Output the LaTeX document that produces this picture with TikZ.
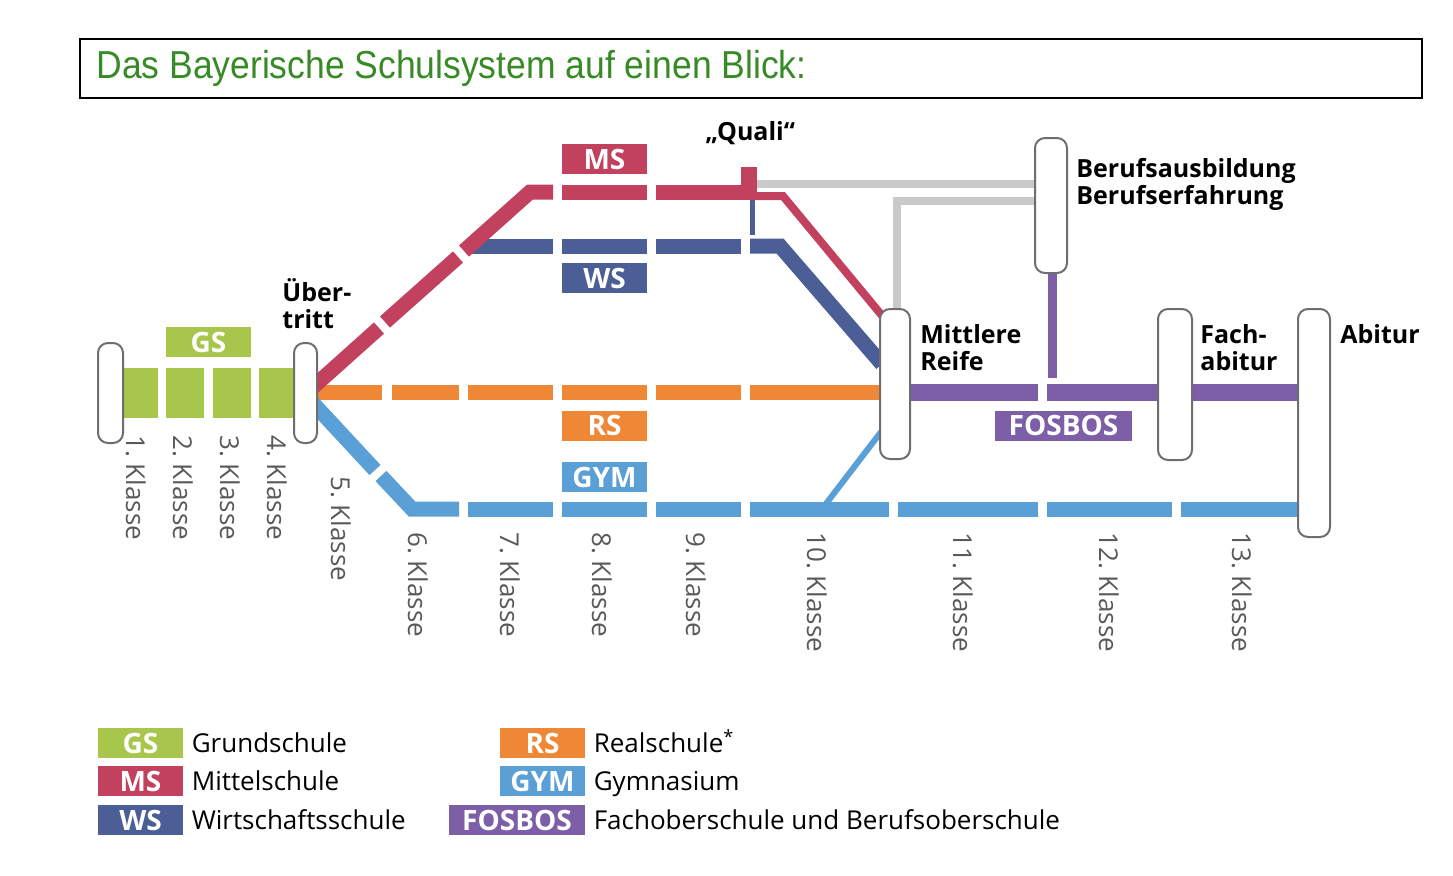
\documentclass[tikz,border=0pt]{standalone}
\usepackage{graphicx}
\usepackage{fontspec}
\setmainfont{Open Sans}
\newfontfamily\titlefont{Liberation Sans}
\usetikzlibrary{positioning}
\definecolor{gsgreen}{HTML}{A8C64B}
\definecolor{msred}{HTML}{C1415F}
\definecolor{wsblue}{HTML}{4B5E95}
\definecolor{rsorange}{HTML}{EF8836}
\definecolor{gymblue}{HTML}{5A9FD5}
\definecolor{fospurple}{HTML}{7C5FA7}
\definecolor{pathgray}{HTML}{C9C9C9}
\definecolor{pillgray}{HTML}{6E6E6E}
\definecolor{titlegreen}{HTML}{378A26}
\definecolor{classgray}{HTML}{595959}

\begin{document}
\begin{tikzpicture}[x=0.5pt, y=-0.5pt,
    track/.style={line width=7.5pt},
    pill/.style={draw=pillgray, fill=white, line width=1pt, rounded corners=5pt, inner sep=0pt},
    tag/.style={fill=#1, text=white, font=\fontsize{14}{14}\selectfont\bfseries, minimum width=42.5pt, minimum height=15pt, inner sep=0pt},
    stage/.style={anchor=base west, align=left, inner sep=0pt, font=\fontsize{12.5}{13.5}\selectfont\bfseries},
    klasse/.style={rotate=-90, anchor=base west, inner sep=0pt, text=classgray, font=\fontsize{13}{13}\selectfont},
    legend/.style={inner sep=0pt, text height=9.3pt, text depth=0pt, font=\fontsize{13}{13}\selectfont}]
\useasboundingbox (0,0) rectangle (1453,875);

% Titel
\draw[line width=0.75pt] (80,39) rectangle (1422,98);
\node[anchor=base west, inner sep=0pt, text=titlegreen, font=\titlefont\fontsize{19.5}{19.5}\selectfont] (titel) at (96,78) {\scalebox{0.91}[1]{Das Bayerische Schulsystem auf einen Blick:}};

% Grundschule
\foreach \a/\b in {123/158,166/204,213/251,259/295}
    \fill[gsgreen] (\a,368) rectangle (\b,418);

% Realschule
\foreach \a/\b in {310/382,392/459,468/553,562/647,656/741,750/882}
    \draw[track, rsorange] (\a,392) -- (\b,392);

% Gymnasium
\draw[track, gymblue] (310,400) -- (375,470);
\draw[track, gymblue] (381,476) -- (412,509) -- (459,509);
\foreach \a/\b in {468/553,562/647,656/741,750/889,898/1038,1047/1172,1181/1300}
    \draw[track, gymblue] (\a,509) -- (\b,509);
\draw[gymblue, line width=3pt] (822,509) -- (884,428);

% Wirtschaftsschule
\draw[track, wsblue] (466,246) -- (553,246);
\foreach \a/\b in {562/647,656/741}
    \draw[track, wsblue] (\a,246) -- (\b,246);
\draw[track, wsblue] (750,246) -- (780,246) -- (882,364);
\draw[wsblue, line width=2.5pt] (752,196) -- (752,235);

% Mittelschule
\draw[track, msred] (312,388) -- (379,328);
\draw[track, msred] (385,322) -- (458,257);
\draw[track, msred] (464,251) -- (530,192) -- (553,192);
\foreach \a/\b in {562/647,656/741}
    \draw[track, msred] (\a,192) -- (\b,192);
\fill[msred] (741,167) rectangle (757,200); % Quali
\draw[msred, line width=4pt] (750,196) -- (783,196) -- (884,318);

% Beruf
\draw[pathgray, line width=4pt] (757,184) -- (1036,184);
\draw[pathgray, line width=4pt] (897,312) -- (897,201) -- (1036,201);

% FOSBOS
\draw[fospurple, line width=8.5pt] (908,392) -- (1038,392);
\draw[fospurple, line width=8.5pt] (1047,392) -- (1300,392);
\draw[fospurple, line width=4.5pt] (1052,272) -- (1052,378);

% Abschluesse
\node[pill, minimum width=12.5pt, minimum height=50pt] (start) at (110.5,393) {};
\node[pill, minimum width=11.5pt, minimum height=50pt] (uebertritt) at (305.5,393) {};
\node[pill, minimum width=15pt, minimum height=75pt] (mreife) at (895,384) {};
\node[pill, minimum width=16pt, minimum height=67.5pt] (beruf) at (1051,205.5) {};
\node[pill, minimum width=17pt, minimum height=75.5pt] (fachabi) at (1175,384.5) {};
\node[pill, minimum width=16pt, minimum height=114pt] (abitur) at (1314,423) {};

\node[tag=gsgreen] (gs) at (208.5,342) {GS};
\node[tag=msred] (ms) at (604.5,159) {MS};
\node[tag=wsblue] (ws) at (604.5,278) {WS};
\node[tag=rsorange] (rs) at (604.5,425.5) {RS};
\node[tag=gymblue] (gym) at (604.5,477) {GYM};
\node[tag=fospurple, minimum width=68.5pt] (fosbos) at (1063.5,425.5) {FOSBOS};

\node[stage] (ueber) at (282,328) {Über-\\tritt};
\node[stage] (quali) at (705,140) {„Quali“};
\node[stage] (mr) at (920,370) {Mittlere\\Reife};
\node[stage] (bb) at (1076,204) {Berufsausbildung\\Berufserfahrung};
\node[stage] (fa) at (1200,370) {Fach-\\abitur};
\node[stage] (ab) at (1340,343) {Abitur};

% Klassen
\foreach \n/\x/\y in {1/126/435,2/173/435,3/220/435,4/267/435,5/331/476,6/408/532,7/500/532,8/592/532,9/686/532,10/807/532,11/953/532,12/1099/532,13/1232/532}
    \node[klasse] (k\n) at (\x,\y) {\n.\ Klasse};

% Legende
\node[tag=gsgreen] (lgs) at (140.5,743) {GS};
\node[tag=msred] (lms) at (140.5,781) {MS};
\node[tag=wsblue] (lws) at (140.5,820) {WS};
\node[tag=rsorange] (lrs) at (542.5,743) {RS};
\node[tag=gymblue] (lgym) at (542.5,781) {GYM};
\node[tag=fospurple, minimum width=68pt] (lfos) at (517,820) {FOSBOS};
\node[legend, right=4pt of lgs] {Grundschule};
\node[legend, right=4pt of lms] {Mittelschule};
\node[legend, right=4pt of lws] {Wirtschaftsschule};
\node[legend, right=4pt of lrs] {Realschule\textsuperscript{*}};
\node[legend, right=4pt of lgym] {Gymnasium};
\node[legend, right=4pt of lfos] {Fachoberschule und Berufsoberschule};
\end{tikzpicture}
\end{document}
